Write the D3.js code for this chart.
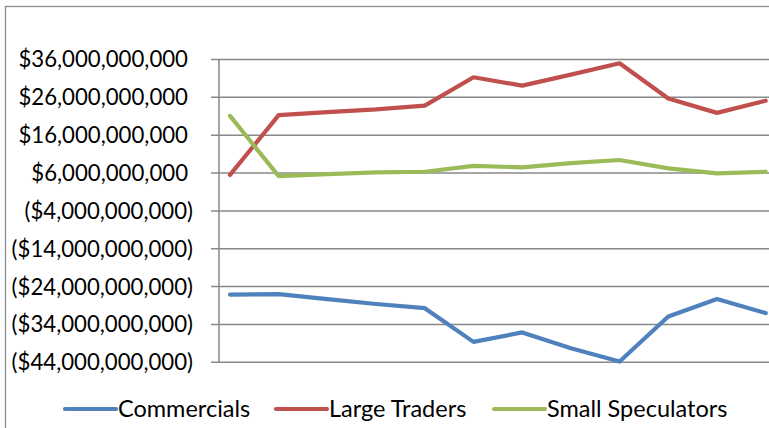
<!DOCTYPE html>
<html>
<head>
<meta charset="utf-8">
<script src="https://cdn.jsdelivr.net/npm/d3@7"></script>
<style>
  body { margin: 0; background: #fff; }
  text { font-family: Lato, "Open Sans", sans-serif; fill: #000; }
</style>
</head>
<body>
<div id="chart"></div>
<script>
// data, in billions of dollars
var periods = d3.range(1, 13);
var commercials = [-26.1, -26.0, -27.3, -28.6, -29.7, -38.6, -36.1, -40.3, -43.8, -31.9, -27.3, -31.0];
var largeTraders = [5.5, 21.3, 22.1, 22.8, 23.8, 31.3, 29.1, 32.0, 35.0, 25.7, 21.9, 25.1];
var smallSpecs = [21.1, 5.2, 5.7, 6.2, 6.35, 7.9, 7.5, 8.6, 9.45, 7.25, 5.9, 6.35];
var yTicks = [36, 26, 16, 6, -4, -14, -24, -34, -44];

var series = [
  { name: "Commercials", values: commercials, color: "#4F81BD" },
  { name: "Large Traders", values: largeTraders, color: "#C0504D" },
  { name: "Small Speculators", values: smallSpecs, color: "#9BBB59" }
];

var svgWidth = 769, svgHeight = 428;

var svg = d3.select("#chart")
  .append("svg")
  .attr("width", svgWidth)
  .attr("height", svgHeight);

// chart area border (runs off the right and bottom edges)
svg.append("rect")
  .attr("x", 5.5).attr("y", 6.5)
  .attr("width", 800).attr("height", 500)
  .attr("fill", "none")
  .attr("stroke", "#8c8c8c")
  .attr("stroke-width", 1.3);

var axisX = 219;

var x = d3.scalePoint()
  .domain(periods)
  .range([230, 765.7]);

var y = d3.scaleLinear()
  .domain([-44, 36])
  .range([362.3, 59.5]);

function money(v) {
  var s = "$" + d3.format(",")(Math.abs(v) * 1e9);
  return v < 0 ? "(" + s + ")" : s;
}

// gridlines + tick marks
svg.append("g")
  .selectAll("line")
  .data(yTicks)
  .enter()
  .append("line")
  .attr("x1", axisX - 8)
  .attr("x2", svgWidth)
  .attr("y1", d => y(d))
  .attr("y2", d => y(d))
  .attr("stroke", "#888")
  .attr("stroke-width", 1.5);

// y axis line
svg.append("line")
  .attr("x1", axisX).attr("x2", axisX)
  .attr("y1", y(36)).attr("y2", y(-44))
  .attr("stroke", "#888")
  .attr("stroke-width", 1.5);

// tick labels
svg.append("g")
  .selectAll("text")
  .data(yTicks)
  .enter()
  .append("text")
  .attr("x", d => d < 0 ? 193 : 188)
  .attr("y", d => y(d))
  .attr("dy", "0.36em")
  .attr("text-anchor", "end")
  .style("font-size", "22.2px")
  .text(d => money(d));

// lines
var line = d3.line()
  .x((d, i) => x(periods[i]))
  .y(d => y(d));

svg.append("g")
  .selectAll("path")
  .data(series)
  .enter()
  .append("path")
  .attr("d", d => line(d.values))
  .attr("fill", "none")
  .attr("stroke", d => d.color)
  .attr("stroke-width", 4.2)
  .attr("stroke-linejoin", "round")
  .attr("stroke-linecap", "round");

// legend
var legendX = [65, 276, 494];
var legend = svg.append("g")
  .selectAll("g")
  .data(series)
  .enter()
  .append("g")
  .attr("transform", (d, i) => `translate(${legendX[i]}, 409)`);

legend.append("line")
  .attr("x1", 0).attr("x2", 51)
  .attr("stroke", d => d.color)
  .attr("stroke-width", 4.2)
  .attr("stroke-linecap", "round");

legend.append("text")
  .attr("x", 53)
  .attr("dy", "0.36em")
  .style("font-size", "23.5px")
  .text(d => d.name);
</script>
</body>
</html>
